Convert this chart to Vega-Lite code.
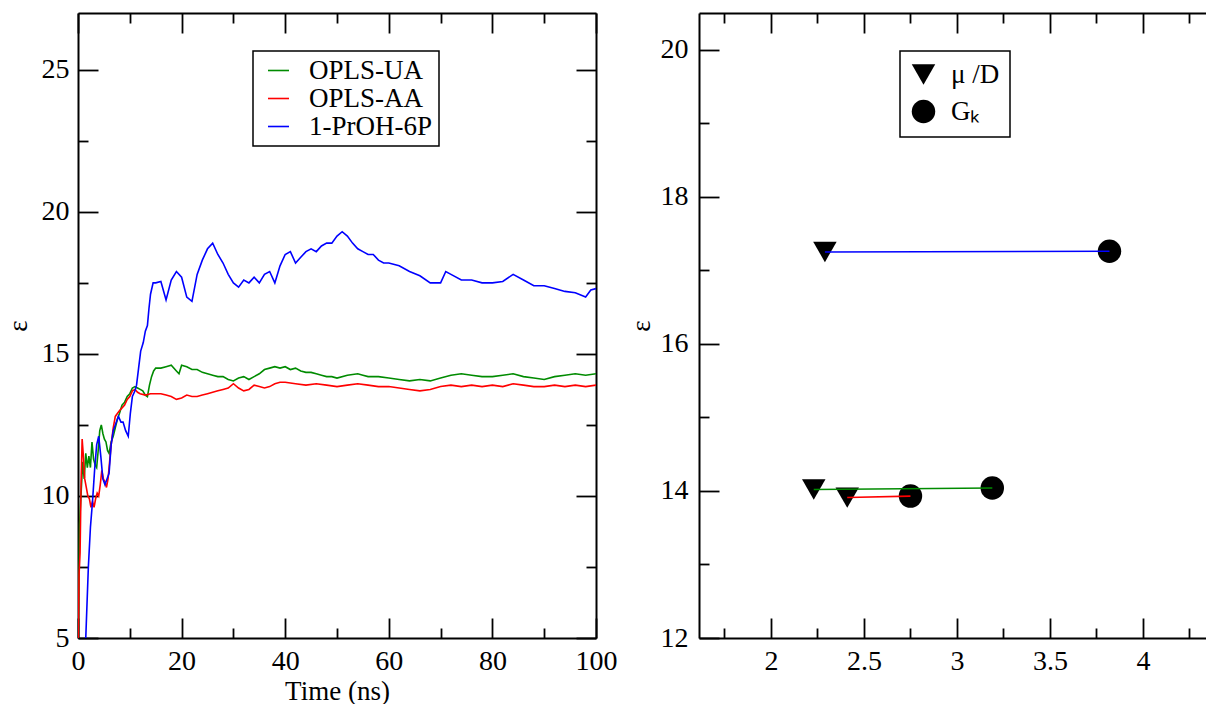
{
  "$schema": "https://vega.github.io/schema/vega-lite/v6.json",
  "padding": {"left": 4, "top": 12, "right": 0, "bottom": 0},
  "autosize": {"type": "pad"},
  "background": "white",
  "config": {
    "font": "Liberation Serif",
    "view": {"stroke": null},
    "axis": {"domainColor": "#000", "domainWidth": 2, "tickColor": "#000", "tickWidth": 1.8, "labelColor": "#000", "labelFontSize": 28, "labelFont": "Liberation Serif", "titleFont": "Liberation Serif", "titleFontSize": 27, "titleFontWeight": "normal", "titleColor": "#000", "grid": false, "labelOverlap": false, "labelFlush": false},
    "legend": {"labelFont": "Liberation Serif", "labelFontSize": 27, "labelColor": "#000", "strokeColor": "#000", "fillColor": "white", "strokeWidth": 1.5, "rowPadding": 0, "title": null}
  },
  "datasets": {
    "ts": [
      {"s":"OPLS-UA","t":0,"v":4.0},{"s":"OPLS-UA","t":0.3,"v":9.0},{"s":"OPLS-UA","t":0.6,"v":10.1},{"s":"OPLS-UA","t":0.9,"v":11.2},{"s":"OPLS-UA","t":1.2,"v":10.6},{"s":"OPLS-UA","t":1.5,"v":11.5},{"s":"OPLS-UA","t":1.8,"v":11.0},{"s":"OPLS-UA","t":2.1,"v":11.4},{"s":"OPLS-UA","t":2.4,"v":11.0},{"s":"OPLS-UA","t":2.7,"v":11.9},{"s":"OPLS-UA","t":3.0,"v":11.3},{"s":"OPLS-UA","t":3.3,"v":11.1},{"s":"OPLS-UA","t":3.6,"v":11.0},{"s":"OPLS-UA","t":3.9,"v":11.6},{"s":"OPLS-UA","t":4.2,"v":12.3},{"s":"OPLS-UA","t":4.5,"v":12.5},{"s":"OPLS-UA","t":4.8,"v":12.2},{"s":"OPLS-UA","t":5.1,"v":12.0},{"s":"OPLS-UA","t":5.4,"v":11.9},{"s":"OPLS-UA","t":5.7,"v":11.6},{"s":"OPLS-UA","t":6.0,"v":11.5},{"s":"OPLS-UA","t":6.4,"v":11.9},{"s":"OPLS-UA","t":6.8,"v":12.1},{"s":"OPLS-UA","t":7.2,"v":12.4},{"s":"OPLS-UA","t":7.6,"v":12.7},{"s":"OPLS-UA","t":8.0,"v":12.9},{"s":"OPLS-UA","t":8.5,"v":13.2},{"s":"OPLS-UA","t":9.0,"v":13.3},{"s":"OPLS-UA","t":9.5,"v":13.5},{"s":"OPLS-UA","t":10,"v":13.6},{"s":"OPLS-UA","t":10.5,"v":13.8},{"s":"OPLS-UA","t":11,"v":13.85},{"s":"OPLS-UA","t":11.5,"v":13.8},{"s":"OPLS-UA","t":12,"v":13.75},{"s":"OPLS-UA","t":12.5,"v":13.7},{"s":"OPLS-UA","t":13,"v":13.55},{"s":"OPLS-UA","t":13.4,"v":13.5},{"s":"OPLS-UA","t":13.8,"v":13.9},{"s":"OPLS-UA","t":14.2,"v":14.2},{"s":"OPLS-UA","t":14.6,"v":14.4},{"s":"OPLS-UA","t":15,"v":14.5},{"s":"OPLS-UA","t":16,"v":14.5},{"s":"OPLS-UA","t":17,"v":14.55},{"s":"OPLS-UA","t":18,"v":14.6},{"s":"OPLS-UA","t":19,"v":14.4},{"s":"OPLS-UA","t":19.5,"v":14.3},{"s":"OPLS-UA","t":20,"v":14.6},{"s":"OPLS-UA","t":21,"v":14.55},{"s":"OPLS-UA","t":22,"v":14.45},{"s":"OPLS-UA","t":23,"v":14.45},{"s":"OPLS-UA","t":24,"v":14.35},{"s":"OPLS-UA","t":25,"v":14.3},{"s":"OPLS-UA","t":26,"v":14.25},{"s":"OPLS-UA","t":27,"v":14.2},{"s":"OPLS-UA","t":28,"v":14.2},{"s":"OPLS-UA","t":29,"v":14.1},{"s":"OPLS-UA","t":30,"v":14.05},{"s":"OPLS-UA","t":31,"v":14.15},{"s":"OPLS-UA","t":32,"v":14.2},{"s":"OPLS-UA","t":33,"v":14.1},{"s":"OPLS-UA","t":34,"v":14.2},{"s":"OPLS-UA","t":35,"v":14.3},{"s":"OPLS-UA","t":36,"v":14.45},{"s":"OPLS-UA","t":37,"v":14.5},{"s":"OPLS-UA","t":38,"v":14.55},{"s":"OPLS-UA","t":39,"v":14.5},{"s":"OPLS-UA","t":40,"v":14.55},{"s":"OPLS-UA","t":41,"v":14.45},{"s":"OPLS-UA","t":42,"v":14.5},{"s":"OPLS-UA","t":43,"v":14.4},{"s":"OPLS-UA","t":44,"v":14.35},{"s":"OPLS-UA","t":45,"v":14.35},{"s":"OPLS-UA","t":46,"v":14.3},{"s":"OPLS-UA","t":47,"v":14.25},{"s":"OPLS-UA","t":48,"v":14.2},{"s":"OPLS-UA","t":49,"v":14.2},{"s":"OPLS-UA","t":50,"v":14.15},{"s":"OPLS-UA","t":52,"v":14.25},{"s":"OPLS-UA","t":54,"v":14.3},{"s":"OPLS-UA","t":55,"v":14.25},{"s":"OPLS-UA","t":56,"v":14.2},{"s":"OPLS-UA","t":58,"v":14.2},{"s":"OPLS-UA","t":60,"v":14.15},{"s":"OPLS-UA","t":62,"v":14.1},{"s":"OPLS-UA","t":64,"v":14.05},{"s":"OPLS-UA","t":66,"v":14.1},{"s":"OPLS-UA","t":68,"v":14.05},{"s":"OPLS-UA","t":70,"v":14.15},{"s":"OPLS-UA","t":72,"v":14.25},{"s":"OPLS-UA","t":74,"v":14.3},{"s":"OPLS-UA","t":76,"v":14.25},{"s":"OPLS-UA","t":78,"v":14.2},{"s":"OPLS-UA","t":80,"v":14.2},{"s":"OPLS-UA","t":82,"v":14.25},{"s":"OPLS-UA","t":84,"v":14.3},{"s":"OPLS-UA","t":86,"v":14.2},{"s":"OPLS-UA","t":88,"v":14.15},{"s":"OPLS-UA","t":90,"v":14.1},{"s":"OPLS-UA","t":92,"v":14.2},{"s":"OPLS-UA","t":94,"v":14.25},{"s":"OPLS-UA","t":96,"v":14.3},{"s":"OPLS-UA","t":98,"v":14.25},{"s":"OPLS-UA","t":100,"v":14.3},
      {"s":"OPLS-AA","t":0,"v":4.0},{"s":"OPLS-AA","t":0.2,"v":7.2},{"s":"OPLS-AA","t":0.4,"v":8.0},{"s":"OPLS-AA","t":0.6,"v":10.5},{"s":"OPLS-AA","t":0.8,"v":12.0},{"s":"OPLS-AA","t":1.0,"v":11.5},{"s":"OPLS-AA","t":1.3,"v":10.6},{"s":"OPLS-AA","t":1.6,"v":10.3},{"s":"OPLS-AA","t":1.9,"v":10.0},{"s":"OPLS-AA","t":2.2,"v":9.9},{"s":"OPLS-AA","t":2.5,"v":9.6},{"s":"OPLS-AA","t":2.8,"v":9.8},{"s":"OPLS-AA","t":3.1,"v":9.6},{"s":"OPLS-AA","t":3.4,"v":9.9},{"s":"OPLS-AA","t":3.7,"v":10.1},{"s":"OPLS-AA","t":4.0,"v":10.0},{"s":"OPLS-AA","t":4.3,"v":10.4},{"s":"OPLS-AA","t":4.6,"v":10.9},{"s":"OPLS-AA","t":4.9,"v":10.6},{"s":"OPLS-AA","t":5.2,"v":10.5},{"s":"OPLS-AA","t":5.5,"v":10.3},{"s":"OPLS-AA","t":5.8,"v":10.6},{"s":"OPLS-AA","t":6.1,"v":11.2},{"s":"OPLS-AA","t":6.4,"v":11.8},{"s":"OPLS-AA","t":6.8,"v":12.4},{"s":"OPLS-AA","t":7.2,"v":12.8},{"s":"OPLS-AA","t":7.6,"v":12.9},{"s":"OPLS-AA","t":8.0,"v":13.0},{"s":"OPLS-AA","t":8.5,"v":13.1},{"s":"OPLS-AA","t":9.0,"v":13.2},{"s":"OPLS-AA","t":9.5,"v":13.4},{"s":"OPLS-AA","t":10,"v":13.5},{"s":"OPLS-AA","t":10.5,"v":13.7},{"s":"OPLS-AA","t":11,"v":13.75},{"s":"OPLS-AA","t":11.5,"v":13.65},{"s":"OPLS-AA","t":12,"v":13.6},{"s":"OPLS-AA","t":13,"v":13.55},{"s":"OPLS-AA","t":14,"v":13.6},{"s":"OPLS-AA","t":15,"v":13.6},{"s":"OPLS-AA","t":16,"v":13.6},{"s":"OPLS-AA","t":17,"v":13.55},{"s":"OPLS-AA","t":18,"v":13.5},{"s":"OPLS-AA","t":19,"v":13.4},{"s":"OPLS-AA","t":20,"v":13.45},{"s":"OPLS-AA","t":21,"v":13.55},{"s":"OPLS-AA","t":22,"v":13.5},{"s":"OPLS-AA","t":23,"v":13.5},{"s":"OPLS-AA","t":24,"v":13.55},{"s":"OPLS-AA","t":25,"v":13.6},{"s":"OPLS-AA","t":26,"v":13.65},{"s":"OPLS-AA","t":27,"v":13.7},{"s":"OPLS-AA","t":28,"v":13.75},{"s":"OPLS-AA","t":29,"v":13.8},{"s":"OPLS-AA","t":30,"v":13.95},{"s":"OPLS-AA","t":31,"v":13.8},{"s":"OPLS-AA","t":32,"v":13.7},{"s":"OPLS-AA","t":33,"v":13.75},{"s":"OPLS-AA","t":34,"v":13.9},{"s":"OPLS-AA","t":35,"v":13.85},{"s":"OPLS-AA","t":36,"v":13.8},{"s":"OPLS-AA","t":37,"v":13.85},{"s":"OPLS-AA","t":38,"v":13.95},{"s":"OPLS-AA","t":39,"v":14.0},{"s":"OPLS-AA","t":40,"v":14.0},{"s":"OPLS-AA","t":42,"v":13.95},{"s":"OPLS-AA","t":44,"v":13.9},{"s":"OPLS-AA","t":46,"v":13.95},{"s":"OPLS-AA","t":48,"v":13.9},{"s":"OPLS-AA","t":50,"v":13.85},{"s":"OPLS-AA","t":52,"v":13.9},{"s":"OPLS-AA","t":54,"v":13.95},{"s":"OPLS-AA","t":56,"v":13.9},{"s":"OPLS-AA","t":58,"v":13.85},{"s":"OPLS-AA","t":60,"v":13.85},{"s":"OPLS-AA","t":62,"v":13.8},{"s":"OPLS-AA","t":64,"v":13.75},{"s":"OPLS-AA","t":66,"v":13.7},{"s":"OPLS-AA","t":68,"v":13.75},{"s":"OPLS-AA","t":70,"v":13.85},{"s":"OPLS-AA","t":72,"v":13.9},{"s":"OPLS-AA","t":74,"v":13.85},{"s":"OPLS-AA","t":76,"v":13.9},{"s":"OPLS-AA","t":78,"v":13.85},{"s":"OPLS-AA","t":80,"v":13.9},{"s":"OPLS-AA","t":82,"v":13.85},{"s":"OPLS-AA","t":84,"v":13.95},{"s":"OPLS-AA","t":86,"v":13.9},{"s":"OPLS-AA","t":88,"v":13.85},{"s":"OPLS-AA","t":90,"v":13.85},{"s":"OPLS-AA","t":92,"v":13.9},{"s":"OPLS-AA","t":94,"v":13.85},{"s":"OPLS-AA","t":96,"v":13.9},{"s":"OPLS-AA","t":98,"v":13.85},{"s":"OPLS-AA","t":100,"v":13.9},
      {"s":"1-PrOH-6P","t":1.2,"v":3.5},{"s":"1-PrOH-6P","t":1.6,"v":5.5},{"s":"1-PrOH-6P","t":2.0,"v":7.5},{"s":"1-PrOH-6P","t":2.4,"v":8.9},{"s":"1-PrOH-6P","t":2.8,"v":9.8},{"s":"1-PrOH-6P","t":3.2,"v":10.9},{"s":"1-PrOH-6P","t":3.6,"v":11.8},{"s":"1-PrOH-6P","t":4.0,"v":12.1},{"s":"1-PrOH-6P","t":4.4,"v":11.4},{"s":"1-PrOH-6P","t":4.8,"v":10.6},{"s":"1-PrOH-6P","t":5.2,"v":10.4},{"s":"1-PrOH-6P","t":5.6,"v":10.6},{"s":"1-PrOH-6P","t":6.0,"v":10.8},{"s":"1-PrOH-6P","t":6.4,"v":11.8},{"s":"1-PrOH-6P","t":6.8,"v":12.3},{"s":"1-PrOH-6P","t":7.2,"v":12.5},{"s":"1-PrOH-6P","t":7.8,"v":12.8},{"s":"1-PrOH-6P","t":8.3,"v":12.6},{"s":"1-PrOH-6P","t":8.7,"v":12.6},{"s":"1-PrOH-6P","t":9.2,"v":12.3},{"s":"1-PrOH-6P","t":9.7,"v":12.1},{"s":"1-PrOH-6P","t":10.1,"v":12.9},{"s":"1-PrOH-6P","t":10.5,"v":13.5},{"s":"1-PrOH-6P","t":11.0,"v":13.7},{"s":"1-PrOH-6P","t":11.3,"v":13.9},{"s":"1-PrOH-6P","t":11.7,"v":14.5},{"s":"1-PrOH-6P","t":12.1,"v":15.1},{"s":"1-PrOH-6P","t":12.6,"v":15.4},{"s":"1-PrOH-6P","t":13.0,"v":15.8},{"s":"1-PrOH-6P","t":13.4,"v":16.0},{"s":"1-PrOH-6P","t":13.7,"v":16.6},{"s":"1-PrOH-6P","t":14.0,"v":17.1},{"s":"1-PrOH-6P","t":14.5,"v":17.5},{"s":"1-PrOH-6P","t":15,"v":17.5},{"s":"1-PrOH-6P","t":16,"v":17.55},{"s":"1-PrOH-6P","t":17,"v":16.9},{"s":"1-PrOH-6P","t":18,"v":17.6},{"s":"1-PrOH-6P","t":19,"v":17.9},{"s":"1-PrOH-6P","t":20,"v":17.7},{"s":"1-PrOH-6P","t":21,"v":17.0},{"s":"1-PrOH-6P","t":22,"v":16.85},{"s":"1-PrOH-6P","t":23,"v":17.8},{"s":"1-PrOH-6P","t":24,"v":18.3},{"s":"1-PrOH-6P","t":25,"v":18.7},{"s":"1-PrOH-6P","t":26,"v":18.9},{"s":"1-PrOH-6P","t":27,"v":18.5},{"s":"1-PrOH-6P","t":28,"v":18.2},{"s":"1-PrOH-6P","t":29,"v":17.8},{"s":"1-PrOH-6P","t":30,"v":17.5},{"s":"1-PrOH-6P","t":31,"v":17.35},{"s":"1-PrOH-6P","t":32,"v":17.6},{"s":"1-PrOH-6P","t":33,"v":17.5},{"s":"1-PrOH-6P","t":34,"v":17.7},{"s":"1-PrOH-6P","t":35,"v":17.5},{"s":"1-PrOH-6P","t":36,"v":17.8},{"s":"1-PrOH-6P","t":37,"v":17.9},{"s":"1-PrOH-6P","t":38,"v":17.5},{"s":"1-PrOH-6P","t":39,"v":18.1},{"s":"1-PrOH-6P","t":40,"v":18.5},{"s":"1-PrOH-6P","t":41,"v":18.6},{"s":"1-PrOH-6P","t":42,"v":18.2},{"s":"1-PrOH-6P","t":43,"v":18.4},{"s":"1-PrOH-6P","t":44,"v":18.6},{"s":"1-PrOH-6P","t":45,"v":18.7},{"s":"1-PrOH-6P","t":46,"v":18.6},{"s":"1-PrOH-6P","t":47,"v":18.8},{"s":"1-PrOH-6P","t":48,"v":18.9},{"s":"1-PrOH-6P","t":49,"v":18.9},{"s":"1-PrOH-6P","t":50,"v":19.15},{"s":"1-PrOH-6P","t":51,"v":19.3},{"s":"1-PrOH-6P","t":52,"v":19.15},{"s":"1-PrOH-6P","t":53,"v":18.9},{"s":"1-PrOH-6P","t":54,"v":18.7},{"s":"1-PrOH-6P","t":55,"v":18.6},{"s":"1-PrOH-6P","t":56,"v":18.5},{"s":"1-PrOH-6P","t":57,"v":18.5},{"s":"1-PrOH-6P","t":58,"v":18.3},{"s":"1-PrOH-6P","t":59,"v":18.2},{"s":"1-PrOH-6P","t":60,"v":18.2},{"s":"1-PrOH-6P","t":62,"v":18.1},{"s":"1-PrOH-6P","t":64,"v":17.9},{"s":"1-PrOH-6P","t":66,"v":17.75},{"s":"1-PrOH-6P","t":68,"v":17.5},{"s":"1-PrOH-6P","t":70,"v":17.5},{"s":"1-PrOH-6P","t":71,"v":17.9},{"s":"1-PrOH-6P","t":72,"v":17.8},{"s":"1-PrOH-6P","t":74,"v":17.6},{"s":"1-PrOH-6P","t":76,"v":17.6},{"s":"1-PrOH-6P","t":78,"v":17.5},{"s":"1-PrOH-6P","t":80,"v":17.5},{"s":"1-PrOH-6P","t":82,"v":17.55},{"s":"1-PrOH-6P","t":84,"v":17.8},{"s":"1-PrOH-6P","t":86,"v":17.6},{"s":"1-PrOH-6P","t":88,"v":17.4},{"s":"1-PrOH-6P","t":90,"v":17.4},{"s":"1-PrOH-6P","t":92,"v":17.3},{"s":"1-PrOH-6P","t":94,"v":17.2},{"s":"1-PrOH-6P","t":96,"v":17.15},{"s":"1-PrOH-6P","t":98,"v":17.0},{"s":"1-PrOH-6P","t":99,"v":17.25},{"s":"1-PrOH-6P","t":100,"v":17.3}
    ],
    "pts": [
      {"s":"OPLS-UA","m":"μ /D","x":2.23,"y":14.02},
      {"s":"OPLS-UA","m":"Gₖ","x":3.19,"y":14.04},
      {"s":"OPLS-AA","m":"μ /D","x":2.41,"y":13.91},
      {"s":"OPLS-AA","m":"Gₖ","x":2.75,"y":13.93},
      {"s":"1-PrOH-6P","m":"μ /D","x":2.29,"y":17.25},
      {"s":"1-PrOH-6P","m":"Gₖ","x":3.82,"y":17.26}
    ]
  },
  "spacing": 103,
  "bounds": "flush",
  "resolve": {"scale": {"color": "independent"}, "legend": {"color": "independent"}},
  "hconcat": [
    {
      "width": 518,
      "height": 625,
      "data": {"name": "ts"},
      "layer": [
        {
          "mark": {"type": "line", "strokeWidth": 1.6, "clip": true},
          "encoding": {
            "x": {"field": "t", "type": "quantitative", "scale": {"domain": [0, 100], "nice": false},
              "axis": {"orient": "bottom", "values": [0,10,20,30,40,50,60,70,80,90,100], "labelExpr": "datum.value % 20 === 0 ? toString(datum.value) : ''", "tickSize": {"condition": {"test": "datum.value % 20 !== 0", "value": -10}, "value": -20}, "labelPadding": 29, "title": "Time (ns)", "titlePadding": -7}},
            "y": {"field": "v", "type": "quantitative", "scale": {"domain": [5, 27], "nice": false, "zero": false},
              "axis": {"orient": "left", "values": [5,7.5,10,12.5,15,17.5,20,22.5,25], "labelExpr": "datum.value % 5 === 0 ? toString(datum.value) : ''", "tickSize": {"condition": {"test": "datum.value % 5 !== 0", "value": -10}, "value": -20}, "labelPadding": 29, "title": "ε", "titlePadding": 9}},
            "color": {"field": "s", "type": "nominal", "scale": {"domain": ["OPLS-UA", "OPLS-AA", "1-PrOH-6P"], "range": ["#008b00", "#ff0000", "#0000ff"]},
              "legend": {"orient": "none", "legendX": 175, "legendY": 38, "symbolType": "stroke", "symbolStrokeWidth": 1.6, "symbolSize": 441, "symbolOffset": 6, "labelOffset": 17, "padding": 6}}
          }
        },
        {
          "mark": {"type": "line", "opacity": 0},
          "encoding": {
            "x": {"field": "t", "type": "quantitative",
              "axis": {"orient": "top", "values": [0,10,20,30,40,50,60,70,80,90,100], "labels": false, "tickSize": {"condition": {"test": "datum.value % 20 !== 0", "value": -10}, "value": -20}, "title": null}},
            "y": {"field": "v", "type": "quantitative",
              "axis": {"orient": "right", "values": [5,7.5,10,12.5,15,17.5,20,22.5,25], "labels": false, "tickSize": {"condition": {"test": "datum.value % 5 !== 0", "value": -10}, "value": -20}, "title": null}}
          }
        }
      ],
      "resolve": {"axis": {"x": "independent", "y": "independent"}}
    },
    {
      "width": 507,
      "height": 625,
      "data": {"name": "pts"},
      "layer": [
        {
          "mark": {"type": "point", "filled": true, "color": "#000", "opacity": 1, "size": 550},
          "encoding": {
            "x": {"field": "x", "type": "quantitative", "scale": {"domain": [1.613, 4.339], "nice": false, "zero": false},
              "axis": {"orient": "bottom", "values": [1.75,2,2.25,2.5,2.75,3,3.25,3.5,3.75,4,4.25], "labelExpr": "(datum.value * 2) % 1 === 0 ? toString(datum.value) : ''", "tickSize": {"condition": {"test": "(datum.value * 2) % 1 !== 0", "value": -10}, "value": -20}, "labelPadding": 29, "title": null}},
            "y": {"field": "y", "type": "quantitative", "scale": {"domain": [12, 20.5], "nice": false, "zero": false},
              "axis": {"orient": "left", "values": [12,13,14,15,16,17,18,19,20], "labelExpr": "datum.value % 2 === 0 ? toString(datum.value) : ''", "tickSize": {"condition": {"test": "datum.value % 2 !== 0", "value": -10}, "value": -20}, "labelPadding": 31, "title": "ε", "titlePadding": 5}},
            "shape": {"field": "m", "type": "nominal", "scale": {"domain": ["μ /D", "Gₖ"], "range": ["triangle-down", "circle"]},
              "legend": {"orient": "none", "legendX": 822, "legendY": 38, "symbolSize": 550, "symbolFillColor": "#000", "symbolStrokeColor": "#000", "labelOffset": 14, "rowPadding": 8, "padding": 10}}
          }
        },
        {
          "mark": {"type": "line", "strokeWidth": 1.6},
          "encoding": {
            "x": {"field": "x", "type": "quantitative", "axis": null},
            "y": {"field": "y", "type": "quantitative", "axis": null},
            "color": {"field": "s", "type": "nominal", "scale": {"domain": ["OPLS-UA", "OPLS-AA", "1-PrOH-6P"], "range": ["#008b00", "#ff0000", "#0000ff"]}, "legend": null}
          }
        },
        {
          "mark": {"type": "point", "opacity": 0},
          "encoding": {
            "x": {"field": "x", "type": "quantitative",
              "axis": {"orient": "top", "values": [1.75,2,2.25,2.5,2.75,3,3.25,3.5,3.75,4,4.25], "labels": false, "tickSize": {"condition": {"test": "(datum.value * 2) % 1 !== 0", "value": -10}, "value": -20}, "title": null}},
            "y": {"field": "y", "type": "quantitative", "axis": null}
          }
        }
      ],
      "resolve": {"axis": {"x": "independent", "y": "independent"}}
    }
  ]
}
